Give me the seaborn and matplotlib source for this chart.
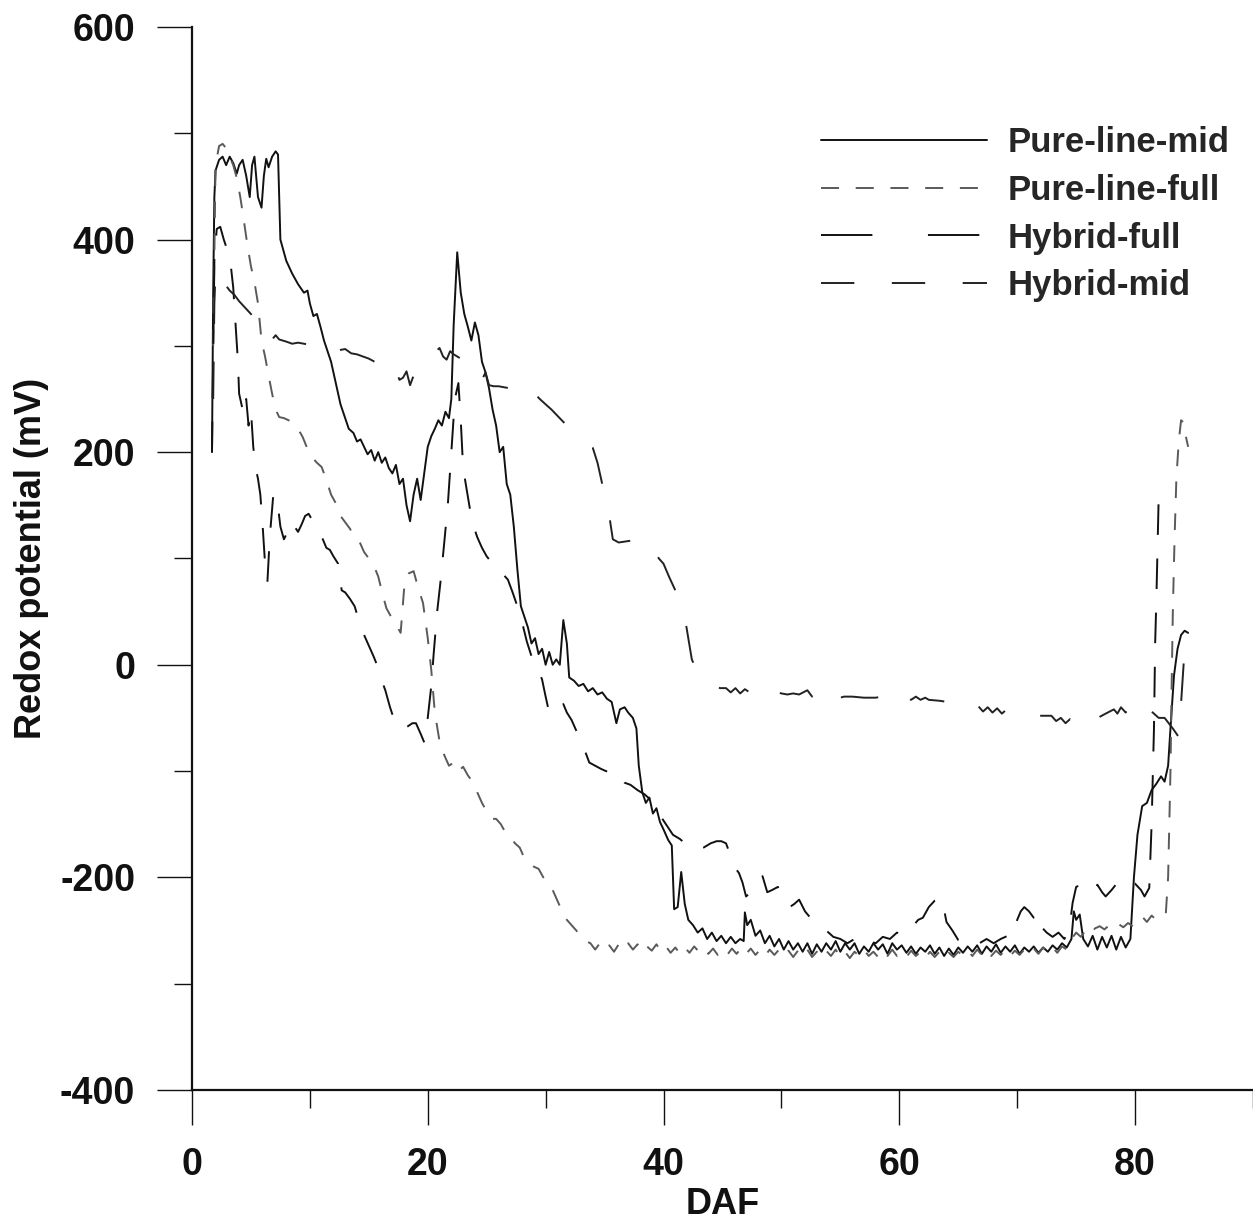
import matplotlib
matplotlib.use("Agg")
import matplotlib.pyplot as plt
from matplotlib.lines import Line2D
import seaborn as sns
import pandas as pd

# --- data (DAF, redox potential in mV) ---
pure_mid_x = [1.7, 1.8, 1.9, 2.0, 2.3, 2.6, 2.9, 3.2, 3.5, 3.8, 4.0, 4.3, 4.6, 4.9, 5.1, 5.3, 5.6, 5.9, 6.1, 6.3,
              6.5, 6.8, 7.1, 7.3, 7.4, 7.5, 8.0, 8.5, 9.0, 9.5, 9.8, 10.0, 10.3, 10.6, 10.9, 11.2, 11.5, 11.8, 12.0, 12.3,
              12.6, 13.0, 13.3, 13.7, 14.0, 14.3, 14.6, 14.9, 15.2, 15.5, 15.8, 16.1, 16.4, 16.7, 17.0, 17.3, 17.6, 17.9, 18.2, 18.5,
              18.8, 19.1, 19.4, 19.7, 20.0, 20.3, 20.6, 20.9, 21.2, 21.5, 21.8, 22.0, 22.2, 22.5, 22.8, 23.1, 23.4, 23.7, 24.0, 24.3,
              24.6, 24.9, 25.2, 25.5, 25.8, 26.1, 26.4, 26.7, 27.0, 27.3, 27.6, 27.9, 28.2, 28.5, 28.8, 29.1, 29.4, 29.7, 30.0, 30.3,
              30.6, 30.9, 31.2, 31.5, 31.8, 32.0, 32.4, 32.8, 33.2, 33.6, 34.0, 34.4, 34.8, 35.2, 35.6, 36.0, 36.3, 36.7, 37.0, 37.4,
              37.7, 37.9, 38.2, 38.5, 38.8, 39.1, 39.4, 39.7, 40.0, 40.4, 40.7, 40.9, 41.2, 41.5, 41.8, 42.1, 42.5, 42.9, 43.3, 43.7,
              44.1, 44.5, 44.9, 45.3, 45.7, 46.1, 46.5, 46.8, 46.9, 47.1, 47.4, 47.8, 48.2, 48.6, 49.0, 49.4, 49.8, 50.2, 50.6, 51.0,
              51.4, 51.8, 52.2, 52.6, 53.0, 53.4, 53.8, 54.2, 54.6, 55.0, 55.4, 55.8, 56.2, 56.6, 57.0, 57.4, 57.8, 58.2, 58.6, 59.0,
              59.4, 59.8, 60.2, 60.6, 61.0, 61.4, 61.8, 62.2, 62.6, 63.0, 63.4, 63.8, 64.2, 64.6, 65.0, 65.4, 65.8, 66.2, 66.6, 67.0,
              67.4, 67.8, 68.2, 68.6, 69.0, 69.4, 69.8, 70.2, 70.6, 71.0, 71.4, 71.8, 72.2, 72.6, 73.0, 73.4, 73.8, 74.2, 74.6, 74.8,
              75.0, 75.3, 75.6, 76.0, 76.4, 76.8, 77.2, 77.6, 78.0, 78.4, 78.8, 79.2, 79.6, 79.9, 80.2, 80.6, 81.0, 81.4, 81.8, 82.2,
              82.5, 82.8, 83.0, 83.3, 83.6, 83.9, 84.2, 84.5]
pure_mid_y = [200, 350, 440, 465, 475, 478, 470, 478, 472, 462, 470, 475, 460, 440, 470, 478, 440, 430, 460, 476,
              468, 478, 483, 480, 440, 400, 380, 368, 358, 350, 352, 340, 328, 330, 318, 305, 295, 285, 275, 260,
              245, 232, 222, 218, 210, 212, 205, 198, 202, 192, 200, 190, 195, 185, 180, 188, 170, 175, 150, 135,
              160, 175, 155, 180, 205, 215, 222, 230, 225, 238, 232, 250, 320, 388, 350, 330, 318, 305, 322, 310,
              285, 275, 260, 240, 225, 200, 205, 170, 160, 130, 90, 55, 45, 35, 20, 25, 10, 15, 0, 12,
              0, 5, 0, 42, 20, -12, -15, -20, -18, -25, -22, -28, -26, -32, -35, -55, -42, -40, -45, -50,
              -60, -95, -120, -130, -125, -140, -135, -148, -155, -165, -170, -230, -228, -195, -225, -240, -245, -252, -248, -258,
              -252, -260, -255, -262, -256, -262, -258, -260, -233, -245, -240, -255, -250, -262, -255, -265, -258, -268, -260, -268,
              -262, -270, -262, -272, -263, -270, -262, -268, -260, -270, -262, -268, -262, -272, -265, -270, -262, -268, -263, -272,
              -262, -268, -264, -271, -265, -272, -266, -270, -264, -272, -266, -274, -267, -273, -266, -271, -265, -270, -264, -272,
              -265, -270, -263, -271, -265, -270, -264, -272, -266, -270, -265, -271, -266, -270, -264, -268, -262, -266, -258, -232,
              -240, -235, -258, -265, -255, -268, -256, -266, -255, -268, -256, -266, -258, -200, -160, -133, -130, -118, -112, -105,
              -110, -95, -60, -10, 15, 28, 32, 30]

pure_full_x = [1.8, 2.0, 2.3, 2.6, 2.9, 3.2, 3.5, 3.8, 4.1, 4.4, 4.7, 5.0, 5.3, 5.6, 5.9, 6.2, 6.5, 6.8, 7.1, 7.4,
               7.8, 8.2, 8.6, 9.0, 9.4, 9.8, 10.2, 10.6, 11.0, 11.4, 11.8, 12.2, 12.6, 13.0, 13.4, 13.8, 14.2, 14.6, 15.0, 15.4,
               15.8, 16.2, 16.5, 16.9, 17.3, 17.7, 18.0, 18.4, 18.8, 19.2, 19.6, 20.0, 20.3, 20.6, 21.0, 21.4, 21.8, 22.2, 22.6, 23.0,
               23.4, 23.8, 24.2, 24.6, 25.0, 25.4, 25.8, 26.2, 26.6, 27.0, 27.4, 27.8, 28.2, 28.6, 29.0, 29.4, 29.8, 30.2, 30.6, 31.0,
               31.4, 31.8, 32.2, 32.6, 33.0, 33.4, 33.8, 34.2, 34.6, 35.0, 35.4, 35.8, 36.2, 36.6, 37.0, 37.4, 37.8, 38.2, 38.6, 39.0,
               39.4, 39.8, 40.2, 40.6, 41.0, 41.4, 41.8, 42.2, 42.6, 43.0, 43.4, 43.8, 44.2, 44.6, 45.0, 45.4, 45.8, 46.2, 46.6, 47.0,
               47.4, 47.8, 48.2, 48.6, 49.0, 49.4, 49.8, 50.2, 50.6, 51.0, 51.4, 51.8, 52.2, 52.6, 53.0, 53.4, 53.8, 54.2, 54.6, 55.0,
               55.4, 55.8, 56.2, 56.6, 57.0, 57.4, 57.8, 58.2, 58.6, 59.0, 59.4, 59.8, 60.2, 60.6, 61.0, 61.4, 61.8, 62.2, 62.6, 63.0,
               63.4, 63.8, 64.2, 64.6, 65.0, 65.4, 65.8, 66.2, 66.6, 67.0, 67.4, 67.8, 68.2, 68.6, 69.0, 69.4, 69.8, 70.2, 70.6, 71.0,
               71.4, 71.8, 72.2, 72.6, 73.0, 73.4, 73.8, 74.2, 74.6, 75.0, 75.4, 75.8, 76.2, 76.6, 77.0, 77.4, 77.8, 78.2, 78.6, 79.0,
               79.4, 79.8, 80.2, 80.6, 81.0, 81.4, 81.8, 82.2, 82.6, 82.8, 83.0, 83.1, 83.2, 83.35, 83.5, 83.7, 83.9, 84.1, 84.3, 84.5]
pure_full_y = [300, 470, 488, 490, 486, 478, 470, 458, 440, 418, 395, 375, 360, 340, 305, 290, 272, 255, 240, 233,
               232, 230, 227, 222, 214, 203, 195, 190, 186, 174, 160, 152, 140, 134, 128, 120, 116, 106, 100, 94,
               83, 65, 53, 45, 38, 30, 72, 86, 88, 72, 58, 25, -5, -45, -72, -85, -95, -92, -100, -96,
               -104, -110, -120, -130, -138, -145, -145, -150, -158, -162, -168, -172, -182, -186, -190, -192, -200, -205, -212, -222,
               -232, -240, -245, -250, -256, -260, -262, -268, -262, -268, -264, -270, -263, -268, -262, -268, -263, -270, -265, -269,
               -263, -270, -265, -271, -266, -272, -266, -271, -265, -270, -266, -272, -267, -273, -268, -273, -267, -272, -266, -272,
               -267, -273, -268, -274, -268, -273, -268, -274, -269, -275, -269, -274, -268, -275, -270, -275, -269, -274, -268, -275,
               -270, -276, -270, -274, -268, -274, -270, -275, -269, -274, -268, -274, -270, -275, -269, -274, -270, -276, -270, -275,
               -270, -276, -271, -275, -270, -274, -269, -274, -268, -273, -268, -274, -269, -273, -268, -274, -269, -273, -268, -272,
               -267, -272, -266, -271, -266, -271, -265, -268, -258, -252, -256, -250, -254, -248, -246, -249, -245, -248, -244, -247,
               -243, -246, -240, -237, -242, -236, -240, -238, -235, -200, -100, -20, 50, 120, 175, 210, 230, 228, 215, 205]

hybrid_full_x = [1.7, 1.9, 2.1, 2.4, 2.7, 3.0, 3.3, 3.5, 3.7, 3.9, 4.0, 4.2, 4.4, 4.6, 4.8, 5.0, 5.2, 5.4, 5.6, 5.8,
                 6.0, 6.2, 6.4, 6.6, 6.9, 7.2, 7.5, 7.8, 8.1, 8.4, 8.7, 9.0, 9.3, 9.6, 9.9, 10.2, 10.5, 10.8, 11.1, 11.4,
                 11.7, 12.0, 12.4, 12.7, 13.0, 13.4, 13.8, 14.2, 14.6, 15.0, 15.4, 15.8, 16.1, 16.4, 16.8, 17.1, 17.5, 17.9, 18.3, 18.7,
                 19.0, 19.4, 19.7, 20.0, 20.3, 20.5, 20.8, 21.1, 21.4, 21.7, 22.0, 22.3, 22.6, 22.8, 23.0, 23.3, 23.6, 23.9, 24.2, 24.6,
                 25.0, 25.5, 25.9, 26.4, 26.8, 27.2, 27.6, 28.0, 28.4, 28.8, 29.2, 29.7, 30.0, 30.2, 30.5, 30.8, 31.2, 31.5, 31.8, 32.2,
                 32.6, 32.9, 33.3, 33.7, 34.2, 34.7, 35.1, 35.4, 35.8, 36.2, 36.7, 37.2, 37.8, 38.4, 39.0, 39.6, 40.2, 40.8, 41.4, 41.8,
                 42.2, 42.8, 43.4, 44.0, 44.5, 44.9, 45.3, 45.7, 46.0, 46.4, 46.7, 47.0, 47.4, 47.8, 48.1, 48.4, 48.8, 49.2, 49.7, 50.2,
                 50.7, 51.1, 51.5, 52.0, 52.6, 53.2, 53.8, 54.4, 55.0, 55.6, 56.2, 56.8, 57.4, 58.0, 58.6, 59.2, 59.8, 60.4, 61.0, 61.6,
                 62.0, 62.5, 63.0, 63.6, 64.0, 64.5, 65.0, 65.6, 66.2, 66.8, 67.4, 68.0, 68.6, 69.2, 69.7, 70.0, 70.3, 70.6, 71.0, 71.4,
                 71.7, 72.0, 72.5, 73.0, 73.5, 74.0, 74.4, 74.7, 75.0, 75.4, 75.8, 76.1, 76.5, 76.8, 77.2, 77.5, 78.0, 78.5, 79.0, 79.5,
                 80.0, 80.5, 80.8, 81.2, 81.4, 81.6, 81.7, 81.8, 81.9, 82.0]
hybrid_full_y = [200, 380, 410, 412, 400, 390, 375, 355, 320, 285, 255, 245, 235, 250, 225, 240, 205, 185, 175, 160,
                 130, 95, 78, 120, 160, 158, 130, 118, 125, 120, 130, 125, 132, 140, 142, 136, 130, 125, 118, 110,
                 108, 102, 95, 70, 68, 62, 55, 40, 28, 18, 8, -3, -15, -24, -40, -50, -56, -61, -58, -55,
                 -55, -65, -73, -50, -20, 10, 50, 80, 115, 150, 200, 250, 265, 230, 185, 165, 145, 130, 120, 110,
                 102, 95, 88, 85, 80, 68, 55, 40, 22, 8, 0, -14, -30, -40, -36, -33, -40, -37, -45, -52,
                 -62, -69, -80, -92, -95, -98, -100, -101, -106, -104, -111, -113, -118, -122, -128, -140, -150, -160, -164, -168,
                 -170, -174, -172, -168, -166, -166, -168, -180, -190, -196, -205, -218, -214, -205, -200, -199, -214, -212, -209, -220,
                 -228, -225, -221, -232, -240, -246, -250, -256, -258, -262, -258, -264, -260, -262, -256, -258, -252, -255, -248, -240,
                 -238, -228, -222, -219, -242, -250, -259, -262, -265, -262, -258, -262, -258, -255, -256, -240, -232, -228, -232, -238,
                 -233, -246, -252, -256, -252, -258, -250, -224, -209, -207, -212, -213, -212, -207, -214, -218, -212, -205, -202, -207,
                 -206, -212, -218, -210, -150, -60, 20, 60, 110, 158]

hybrid_mid_x = [1.8, 1.9, 2.0, 2.2, 2.5, 2.8, 3.2, 3.6, 4.0, 4.5, 5.0, 5.3, 5.6, 5.9, 6.2, 6.5, 6.8, 7.1, 7.4, 7.7,
                8.0, 8.5, 9.0, 9.5, 10.0, 10.5, 11.0, 11.5, 12.0, 12.5, 13.0, 13.5, 14.0, 14.5, 15.0, 15.5, 16.0, 16.5, 17.0, 17.3,
                17.6, 17.9, 18.2, 18.5, 18.8, 19.1, 19.5, 20.0, 20.5, 21.0, 21.3, 21.6, 21.9, 22.2, 22.5, 22.8, 23.2, 23.6, 24.0, 24.3,
                24.6, 24.9, 25.2, 25.6, 26.0, 26.5, 27.0, 27.5, 28.0, 28.5, 29.0, 29.5, 30.0, 30.5, 31.2, 31.8, 32.4, 33.0, 33.6, 34.0,
                34.4, 34.7, 35.0, 35.4, 35.7, 36.2, 36.8, 37.4, 38.0, 38.8, 39.2, 39.6, 40.0, 40.5, 41.0, 41.4, 41.8, 42.1, 42.4, 42.8,
                43.3, 43.8, 44.3, 44.8, 45.3, 45.7, 46.1, 46.5, 46.9, 47.3, 47.7, 48.1, 48.5, 49.0, 49.5, 50.0, 50.5, 51.0, 51.5, 52.2,
                52.6, 53.0, 53.4, 53.8, 54.2, 54.6, 55.0, 55.3, 56.0, 57.0, 58.0, 59.0, 59.4, 59.8, 60.2, 60.6, 61.0, 61.4, 61.8, 62.2,
                62.5, 63.5, 64.5, 65.5, 65.9, 66.3, 66.7, 67.1, 67.5, 67.9, 68.3, 68.7, 69.0, 69.3, 70.5, 71.5, 72.5, 72.9, 73.3, 73.7,
                74.1, 74.5, 74.9, 75.3, 75.6, 75.9, 76.5, 77.5, 78.2, 78.5, 78.8, 79.2, 79.6, 80.0, 80.3, 80.6, 81.0, 81.5, 82.0, 82.5,
                83.2, 83.7, 83.9, 84.1, 84.3, 84.5]
hybrid_mid_y = [250, 340, 368, 372, 365, 358, 352, 348, 342, 336, 330, 326, 320, 322, 315, 312, 306, 310, 306, 305,
                304, 302, 303, 302, 301, 300, 302, 298, 300, 296, 297, 293, 292, 290, 288, 285, 283, 280, 272, 277,
                268, 270, 276, 263, 272, 280, 285, 290, 293, 298, 290, 287, 295, 292, 290, 288, 286, 285, 284, 275,
                268, 275, 263, 262, 262, 261, 260, 256, 258, 252, 256, 250, 245, 240, 232, 225, 218, 212, 207, 204,
                190, 175, 160, 140, 118, 115, 116, 117, 118, 116, 108, 100, 95, 82, 70, 58, 45, 25, 5, -5,
                -12, -18, -20, -22, -22, -26, -22, -27, -23, -26, -22, -27, -24, -26, -25, -27, -28, -27, -28, -24,
                -30, -26, -31, -27, -30, -27, -31, -30, -30, -31, -31, -29, -33, -30, -34, -31, -33, -30, -33, -31,
                -33, -34, -36, -37, -38, -42, -39, -44, -40, -45, -41, -46, -43, -47, -47, -48, -48, -48, -53, -50,
                -55, -51, -53, -48, -54, -55, -52, -46, -42, -46, -40, -45, -38, -44, -38, -40, -42, -45, -50, -50,
                -60, -68, -36, -2, 30, 35]

series_names = ["Pure-line-mid", "Pure-line-full", "Hybrid-full", "Hybrid-mid"]
series_x = [pure_mid_x, pure_full_x, hybrid_full_x, hybrid_mid_x]
series_y = [pure_mid_y, pure_full_y, hybrid_full_y, hybrid_mid_y]
colors = ["#111111", "#5a5a5a", "#111111", "#222222"]
# dash pattern on the plot and in the legend key (points)
plot_styles = ["-", (0, (12, 11)), (0, (22, 17)), (0, (27, 27))]
legend_styles = ["-", (0, (13, 12)), (0, (37, 40)), (0, (24, 27))]

sns.set_theme(style="ticks")
plt.rcParams["font.family"] = ["Liberation Sans", "DejaVu Sans"]
plt.rcParams["font.weight"] = "bold"
plt.rcParams["lines.scale_dashes"] = False
plt.rcParams["axes.unicode_minus"] = False

fig = plt.figure(figsize=(12.53, 12.26), dpi=100)
ax = fig.add_axes([0.1532, 0.111, 0.8468, 0.867])

for name, xs, ys, color, ls in zip(series_names, series_x, series_y, colors, plot_styles):
    df = pd.DataFrame({"DAF": xs, "Redox": ys})
    sns.lineplot(data=df, x="DAF", y="Redox", ax=ax, color=color, linestyle=ls,
                 linewidth=1.4, estimator=None, sort=False, legend=False)

ax.set_xlim(0, 90)
ax.set_ylim(-400, 600)
ax.set_xticks([0, 20, 40, 60, 80])
ax.set_xticks([10, 30, 50, 70, 90], minor=True)
ax.set_yticks([-400, -200, 0, 200, 400, 600])
ax.set_yticks([-300, -100, 100, 300, 500], minor=True)
ax.tick_params(which="major", length=25, width=1.0, direction="out", pad=16,
               labelsize=27, color="#111111", labelcolor="#111111")
ax.tick_params(which="minor", length=13, width=1.0, direction="out", color="#111111")
for lab in ax.get_xticklabels() + ax.get_yticklabels():
    lab.set_fontweight("bold")

sns.despine(ax=ax)
ax.spines["left"].set_linewidth(1.6)
ax.spines["bottom"].set_linewidth(1.6)
ax.spines["left"].set_color("#111111")
ax.spines["bottom"].set_color("#111111")

ax.set_xlabel("DAF", fontsize=26, fontweight="bold", labelpad=3, color="#111111")
ax.set_ylabel("Redox potential (mV)", fontsize=26, fontweight="bold", labelpad=8, color="#111111")

handles = [Line2D([], [], color=c, linestyle=ls, linewidth=1.4) for c, ls in zip(colors, legend_styles)]
ax.legend(handles, series_names, loc="upper left", bbox_to_anchor=(0.593, 0.9064), frameon=False,
          handlelength=4.78, handletextpad=0.58, labelspacing=0.42,
          borderpad=0, borderaxespad=0, prop={"weight": "bold", "size": 25})

fig.savefig("out.png", dpi=100, facecolor="white")
